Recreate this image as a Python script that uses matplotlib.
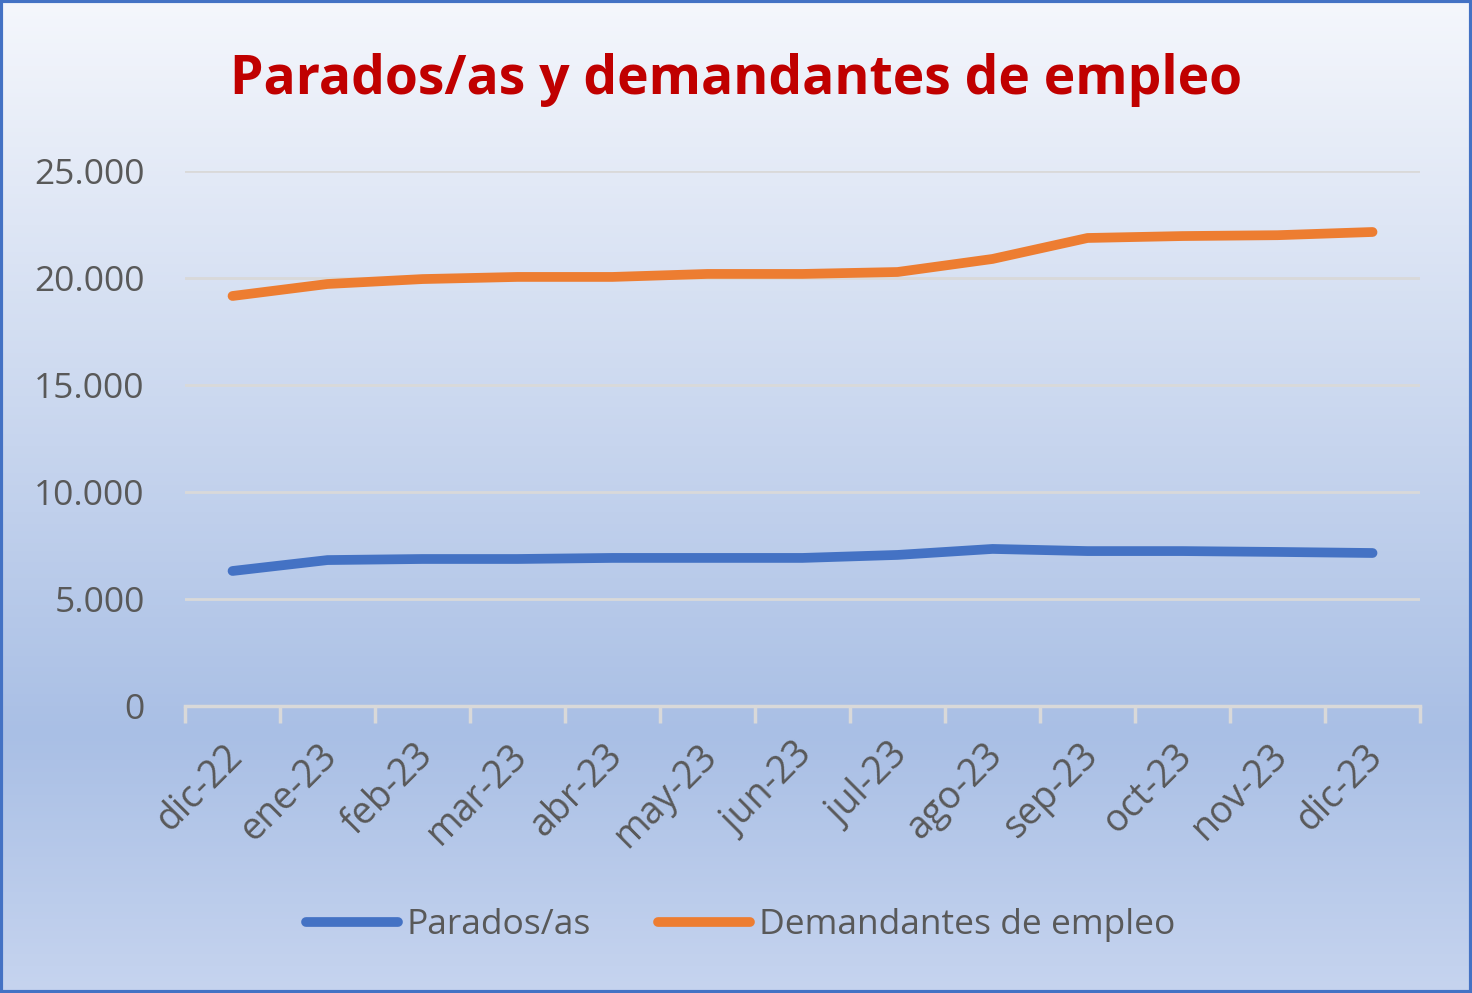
import numpy as np
import matplotlib.pyplot as plt
import matplotlib.transforms as mtransforms
from matplotlib.colors import LinearSegmentedColormap

months = ['dic-22', 'ene-23', 'feb-23', 'mar-23', 'abr-23', 'may-23', 'jun-23',
          'jul-23', 'ago-23', 'sep-23', 'oct-23', 'nov-23', 'dic-23']
parados = [6310, 6820, 6870, 6870, 6920, 6920, 6920, 7060, 7340, 7240, 7240, 7200, 7150]
demandantes = [19160, 19720, 19950, 20050, 20050, 20190, 20190, 20280, 20890, 21870, 21960, 22000, 22150]

plt.rcParams['font.family'] = ['Open Sans', 'DejaVu Sans']

fig = plt.figure(figsize=(14.72, 9.93), dpi=100)

# background gradient
bg = fig.add_axes([0, 0, 1, 1], zorder=0)
cmap = LinearSegmentedColormap.from_list('bg', [(0, '#f5f7fc'), (0.74, '#a9bfe5'), (1, '#c6d4ef')])
grad = np.linspace(0, 1, 256).reshape(-1, 1)
bg.imshow(grad, aspect='auto', cmap=cmap, extent=[0, 1, 0, 1], origin='upper')
bg.set_xlim(0, 1)
bg.set_ylim(0, 1)
bg.axis('off')
bg.add_patch(plt.Rectangle((0.001, 0.0015), 0.998, 0.997, fill=False,
                           edgecolor='#4472c4', lw=3, transform=bg.transAxes))

ax = fig.add_axes([0.1257, 0.289, 0.839, 0.5388], zorder=1)
ax.patch.set_alpha(0)
x = np.arange(len(months))
ax.plot(x, parados, color='#4472c4', lw=7, solid_capstyle='round', label='Parados/as', zorder=3)
ax.plot(x, demandantes, color='#ed7d31', lw=7, solid_capstyle='round',
        label='Demandantes de empleo', zorder=3)

ax.set_xlim(-0.5, len(months) - 0.5)
ax.set_ylim(0, 25000)
ax.set_yticks(range(0, 25001, 5000))
ax.set_yticklabels(['0', '5.000', '10.000', '15.000', '20.000', '25.000'])
ax.yaxis.grid(True, color='#d9d9d9', lw=2)
ax.set_axisbelow(True)
for s in ['top', 'right', 'left']:
    ax.spines[s].set_visible(False)
ax.spines['bottom'].set_color('#d9d9d9')
ax.spines['bottom'].set_linewidth(2.5)

ax.set_xticks(x)
ax.set_xticklabels(months, rotation=45, ha='right', rotation_mode='anchor')
ax.set_xticks(np.arange(-0.5, len(months)), minor=True)
ax.tick_params(axis='x', which='major', length=0, pad=22, labelsize=27, labelcolor='#595959')
ax.tick_params(axis='x', which='minor', length=12, width=2.5, color='#d9d9d9', direction='out')
ax.tick_params(axis='y', length=0, pad=29, labelsize=25.5, labelcolor='#595959')
shift = mtransforms.ScaledTranslation(-9 / 100, 0, fig.dpi_scale_trans)
for lab in ax.get_xticklabels():
    lab.set_transform(lab.get_transform() + shift)

fig.text(0.5, 0.919, 'Parados/as y demandantes de empleo', ha='center', va='center',
         fontsize=38.5, fontweight='bold', color='#c00000')

fig.legend(loc='center', bbox_to_anchor=(0.503, 0.068), ncol=2, frameon=False,
           fontsize=25.5, labelcolor='#595959', handlelength=2.6, columnspacing=1.9,
           handletextpad=0.25)

fig.savefig('out.png', dpi=100)
